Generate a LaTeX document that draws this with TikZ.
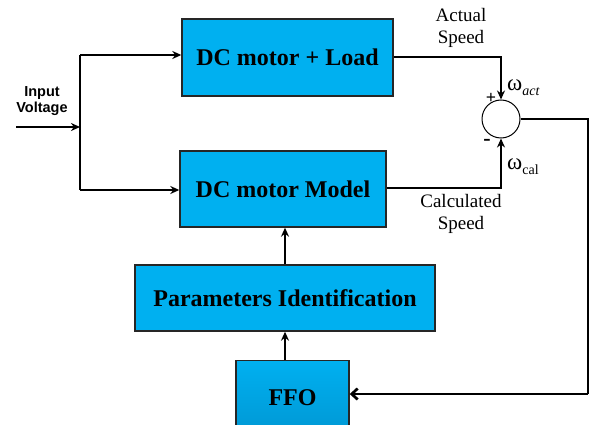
\documentclass[tikz,border=0pt]{standalone}
\usepackage{fontspec}
\setmainfont{Liberation Serif}
\newfontfamily\arialf{Liberation Sans}
\usetikzlibrary{arrows.meta}
\definecolor{boxblue}{RGB}{0,176,240}
\definecolor{boxdark}{RGB}{0,150,210}
\begin{document}
\begin{tikzpicture}[x=1pt,y=-1pt,
  blk/.style={draw=black!85,line width=1.4pt,fill=boxblue,font=\bfseries\fontsize{24}{26}\selectfont,inner sep=0pt},
  conn/.style={line width=2.7pt,-{Stealth[length=9pt,width=8pt]}},
  wire/.style={line width=2.7pt},
  lbl/.style={font=\fontsize{19}{22}\selectfont,align=center}]
\useasboundingbox (0,0) rectangle (589,425);
\node[blk,minimum width=211pt,minimum height=77pt] (load) at (287.5,57.5) {DC motor + Load};
\node[blk,minimum width=206pt,minimum height=76pt] (model) at (283,189) {DC motor Model};
\node[blk,minimum width=300pt,minimum height=66pt] (pid) at (285,298) {Parameters Identification};
\node[blk,shading=axis,top color=boxblue,bottom color=boxdark,minimum width=113pt,minimum height=80pt,anchor=north] (ffo) at (292.5,360) {\raisebox{6pt}{FFO}};
\node[draw,circle,line width=1pt,minimum size=38pt,inner sep=0pt] (sum) at (501,119) {};
% input
\node[font=\arialf\bfseries\fontsize{14.5}{16.5}\selectfont,align=center] (inlbl) at (42,101) {Input\\Voltage};
\coordinate (inS) at (16,127);
\coordinate (split) at (80,127);
\draw[conn] (inS) -- (split);
\draw[wire] (80,55) -- (80,190);
\draw[conn] (80,55) -- (load.west |- 0,55);
\draw[conn] (80,190) -- (model.west |- 0,190);
% speeds
\coordinate (c1) at (501,57);
\coordinate (c2) at (501,188);
\draw[conn] (load.east |- c1) -- (c1) -- (sum.north);
\draw[conn] (model.east |- c2) -- (c2) -- (sum.south);
\node[lbl] (act) at (461,28) {Actual\\Speed};
\node[lbl] (calc) at (461,214) {Calculated\\Speed};
\node[font=\fontsize{23}{24}\selectfont,anchor=west,inner sep=0pt] (wa) at (507,88) {ω\raisebox{-5pt}{\fontsize{14}{16}\selectfont\itshape act}};
\node[font=\fontsize{23}{24}\selectfont,anchor=west,inner sep=0pt] (wc) at (507,167) {ω\raisebox{-5pt}{\fontsize{14}{16}\selectfont cal}};
\node[font=\bfseries\fontsize{18}{20}\selectfont] (plus) at (491,98) {+};
\node[font=\bfseries\fontsize{22}{22}\selectfont] (minus) at (487,142) {-};
% feedback
\coordinate (r1) at (588,119);
\coordinate (r2) at (588,394);
\draw[wire] (sum.east) -- (r1) -- (r2);
\draw[line width=2.7pt,-{Straight Barb[length=6pt,width=11pt]}] (r2) -- (ffo.east |- r2);
% vertical
\draw[conn] (pid.north -| 285,0) -- (model.south -| 285,0);
\draw[conn] (ffo.north -| 285,0) -- (pid.south -| 285,0);
\end{tikzpicture}
\end{document}
